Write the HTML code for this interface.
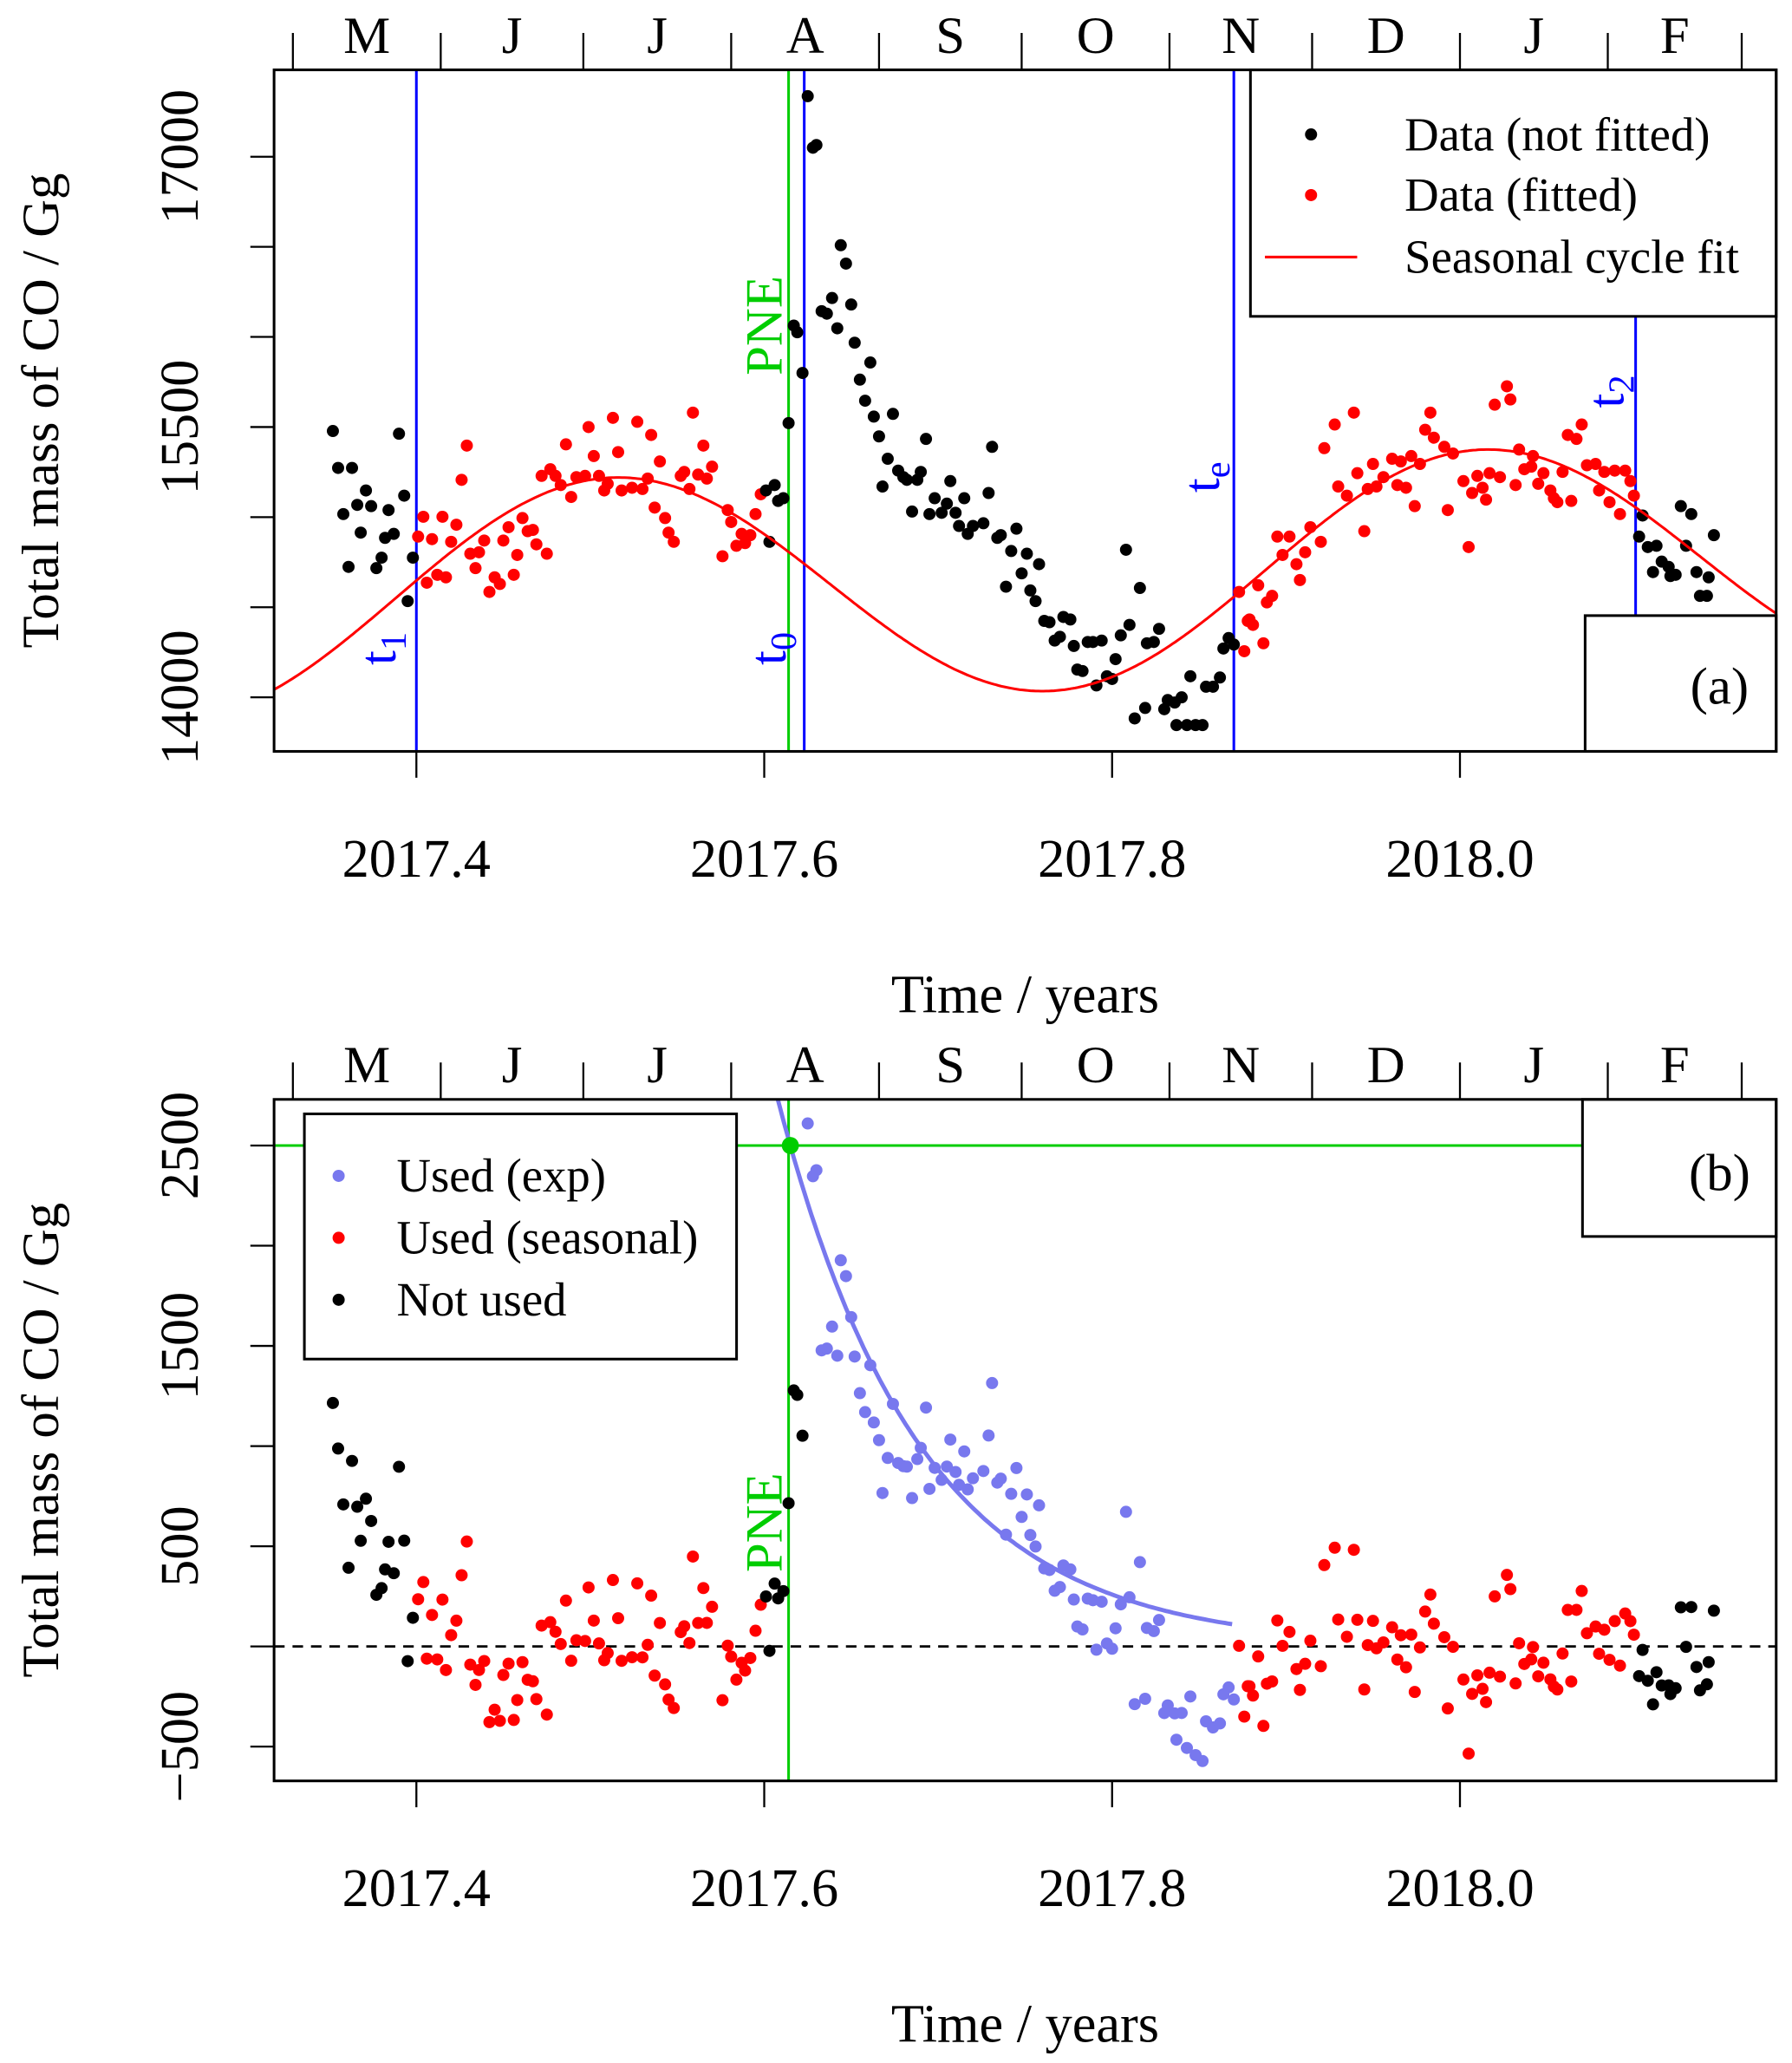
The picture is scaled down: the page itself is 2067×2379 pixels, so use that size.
<!DOCTYPE html>
<html><head><meta charset="utf-8"><style>
html,body{margin:0;padding:0;background:#fff;}
svg{display:block;font-family:"Liberation Serif",serif;}
</style></head><body>
<svg id="chart" width="2067" height="2379" viewBox="0 0 1360 1565" preserveAspectRatio="none" xmlns="http://www.w3.org/2000/svg">
<defs>
<clipPath id="clipA"><rect x="208" y="53" width="1140" height="517"/></clipPath>
<clipPath id="clipB"><rect x="208" y="834" width="1140" height="517"/></clipPath>
</defs>
<g id="gA"></g>
<g id="gB"></g>
</svg>
<script>
// ---- data ----
const tA = [2017.352,2017.355,2017.363,2017.371,2017.366,2017.374,2017.358,2017.384,2017.393,2017.390,2017.368,2017.382,2017.387,2017.380,2017.377,2017.361,2017.398,2017.395,
2017.404,2017.401,2017.415,2017.423,2017.409,2017.420,2017.429,2017.426,2017.406,2017.412,2017.417,2017.431,2017.436,2017.439,2017.434,2017.442,2017.445,2017.448,2017.450,2017.453,2017.461,2017.464,2017.467,2017.469,2017.475,2017.458,2017.456,2017.472,2017.477,2017.480,2017.483,2017.489,2017.486,2017.492,2017.497,2017.499,2017.502,2017.505,2017.510,2017.508,2017.513,2017.516,2017.518,2017.524,2017.530,2017.533,2017.527,2017.535,2017.540,2017.537,2017.543,2017.545,2017.548,2017.552,2017.554,2017.557,2017.559,2017.565,2017.562,2017.567,2017.570,2017.579,2017.581,2017.587,2017.592,2017.589,2017.584,2017.576,2017.595,2017.598,
2017.601,2017.606,2017.608,2017.611,2017.614,2017.603,2017.617,2017.619,2017.622,
2017.625,2017.628,2017.630,2017.644,2017.647,2017.639,2017.633,2017.636,2017.642,2017.650,2017.652,2017.661,2017.655,2017.658,2017.663,2017.674,2017.666,2017.693,2017.671,2017.677,2017.680,2017.682,2017.688,2017.690,2017.668,2017.731,2017.707,2017.729,2017.698,2017.705,2017.715,2017.685,2017.695,2017.702,2017.710,2017.712,2017.720,2017.726,2017.717,2017.734,2017.736,2017.745,2017.742,2017.751,2017.758,2017.748,2017.739,2017.753,2017.756,2017.808,2017.816,2017.761,2017.764,2017.772,2017.776,2017.767,2017.770,2017.778,2017.786,2017.789,2017.794,2017.805,2017.810,2017.820,2017.824,2017.827,2017.780,2017.783,2017.791,2017.797,2017.800,2017.802,2017.813,2017.819,2017.830,2017.832,2017.836,2017.840,2017.845,2017.837,2017.843,2017.848,2017.852,2017.854,2017.858,2017.862,2017.867,2017.864,
2017.873,2017.870,2017.876,2017.878,2017.887,2017.879,2017.881,2017.884,2017.889,2017.892,2017.908,2017.906,2017.898,2017.911,2017.895,2017.902,2017.914,2017.920,2017.945,2017.930,2017.935,2017.941,2017.947,2017.952,2017.956,2017.964,2017.969,2017.950,2017.961,2017.966,2017.972,2017.977,2017.974,2017.922,2017.928,2017.939,2017.980,2017.985,2017.991,2017.996,2017.983,2017.993,2018.002,2018.010,2018.007,2018.013,2018.015,2018.005,2018.017,2018.023,2018.032,2018.020,2018.029,2018.027,2018.034,2018.042,2018.037,2018.041,2018.045,2018.048,2018.052,2018.056,2018.054,2018.059,2018.064,2018.062,2018.067,2018.070,2018.073,2018.078,2018.083,2018.089,2018.095,2018.098,2018.080,2018.086,2018.092,
2018.100,2018.105,2018.103,2018.108,2018.113,2018.116,2018.120,2018.111,2018.124,2018.121,2018.127,2018.133,2018.130,2018.146,2018.136,2018.143,2018.138,2018.142];
const vA = [15478,15273,15273,15148,15068,15061,15017,15039,15119,15463,14914,14885,14907,14775,14717,14724,14775,14534,
15002,14892,15002,14958,14878,14863,15397,15207,14636,14680,14666,14797,14805,14870,14717,14585,14666,14629,14870,14944,14995,14922,14929,14849,14797,14790,14680,15229,15266,15229,15178,15112,15404,15222,15229,15500,15339,15229,15185,15148,15551,15361,15148,15163,15156,15214,15529,15456,15309,15053,14995,14914,14863,15229,15251,15156,15580,15397,15236,15214,15280,15039,14973,14907,14900,14856,14841,14783,15017,15127,
15148,15178,15090,15105,15522,14863,16063,16026,15800,
17336,17050,17065,16509,16407,16216,16143,16129,16048,16180,15968,15858,15763,15646,15558,15573,15448,15434,15324,15258,15222,15207,15207,15251,15170,15390,15200,15134,15105,15075,15105,15031,15017,15024,15024,14951,14951,14966,14907,14885,14900,14936,14812,14797,14739,14688,14614,14593,14534,14819,14607,14424,14417,14446,14432,14315,14336,14285,14307,14307,14315,14344,14402,14300,14307,14380,14154,14146,14066,14117,14102,14212,13883,13941,13934,13985,13971,14000,14117,13846,13846,13846,13846,14059,14059,14110,14329,14271,
14585,14293,14256,14424,14300,14432,14402,14622,14527,14563,14651,14739,14790,14805,14892,14892,14944,14863,14922,15170,15119,15244,15156,15170,15222,15178,15163,15295,15324,15309,15339,15295,15061,15383,15514,15580,15485,15441,15390,15353,15580,15039,15200,15229,15134,15163,15097,14834,15244,15222,15178,15624,15653,15726,15375,15339,15266,15280,15185,15244,15148,15083,15105,15251,15090,15456,15434,15514,15288,15295,15251,15258,15258,15200,15148,15083,15017,
15119,15009,14892,14834,14841,14753,14724,14695,14680,14673,15061,15017,14841,14900,14695,14666,14563,14563];
// seasonal fit parameters (semi-annual cycle + trend)
const fitMean = [14666];
const fitTrend = [310];
const fitAmp = [631];
const fitPhase = [2017.513];
const fitPeriod = [0.5];
// key times
const markerNames = ['t1','PNE','t0','te','t2'];
const markerTimes = [2017.400, 2017.614, 2017.623, 2017.870, 2018.101];
// exponential decay fit for panel b
const expA = [2500];
const expT0 = [2017.615];
const expTau = [0.0816];
// axes
const xTicks = [2017.4, 2017.6, 2017.8, 2018.0];
const xTickLabels = ['2017.4','2017.6','2017.8','2018.0'];
const yTicksA = [14000,14500,15000,15500,16000,16500,17000];
const yLabelsA = ['14000','15500','17000'];
const yTicksB = [-500,0,500,1000,1500,2000,2500];
const yLabelsB = ['\u2212500','500','1500','2500'];
const monthBounds = [2017.329,2017.414,2017.496,2017.581,2017.666,2017.748,2017.833,2017.915,2018.0,2018.085,2018.162];
const monthLabels = ['M','J','J','A','S','O','N','D','J','F'];

// ---- helpers ----
const NS='http://www.w3.org/2000/svg';
function mk(tag, attrs, parent){const e=document.createElementNS(NS,tag);for(const k in attrs)e.setAttribute(k,attrs[k]);parent.appendChild(e);return e;}
const X0=208,X1=1348;
function xs(t){return 316+(t-2017.4)*1320;}
function ysA(v){return 529-(v-14000)*0.1367;}
function ysB(v){return 1249-v*0.152;}
function fit(t){return fitMean[0]+fitTrend[0]*(t-2017.763)+fitAmp[0]*Math.cos(2*Math.PI*(t-fitPhase[0])/fitPeriod[0]);}
function expFit(t){return expA[0]*Math.exp(-(t-expT0[0])/expTau[0]);}
const BLUE='#0000ff',GREEN='#00cd00',RED='#ff0000',PURP='#7878ee';

function axes(g, top, bottom, yTicks, yLabels, ys, panel){
  // top month axis
  const ma=mk('g',{},g);
  
  
  monthBounds.forEach(m=>mk('line',{x1:xs(m),x2:xs(m),y1:top-28,y2:top,stroke:'#000','stroke-width':1.5},ma));
  mk('line',{x1:xs(monthBounds[0]),x2:xs(monthBounds[monthBounds.length-1]),y1:top,y2:top,stroke:'#000','stroke-width':1.5},ma);
  monthLabels.forEach((l,i)=>{const tx=mk('text',{x:(xs(monthBounds[i])+xs(monthBounds[i+1]))/2,y:top-13,'font-size':40,'text-anchor':'middle'},ma);tx.textContent=l;
    
    });
  // bottom axis
  const xa=mk('g',{},g);
  
  
  mk('line',{x1:xs(xTicks[0]),x2:xs(xTicks[xTicks.length-1]),y1:bottom,y2:bottom,stroke:'#000','stroke-width':1.5},xa);
  xTicks.forEach((t,i)=>{mk('line',{x1:xs(t),x2:xs(t),y1:bottom,y2:bottom+20,stroke:'#000','stroke-width':1.5},xa);
    const tx=mk('text',{x:xs(t),y:bottom+95,'font-size':41,'text-anchor':'middle'},xa);tx.textContent=xTickLabels[i];
    
    });
  const xt=mk('text',{x:778,y:bottom+198,'font-size':41,'text-anchor':'middle'},g);xt.textContent='Time / years';
  
  
  // y axis
  const ya=mk('g',{},g);
  
  
  mk('line',{x1:X0,x2:X0,y1:ys(yTicks[0]),y2:ys(yTicks[yTicks.length-1]),stroke:'#000','stroke-width':1.5},ya);
  yTicks.forEach(v=>mk('line',{x1:X0-18,x2:X0,y1:ys(v),y2:ys(v),stroke:'#000','stroke-width':1.5},ya));
  yLabels.forEach(l=>{const v=parseFloat(l.replace('\u2212','-'));const y=ys(v);
    const tx=mk('text',{transform:`translate(150,${y}) rotate(-90)`,'font-size':41,'text-anchor':'middle'},ya);tx.textContent=l;
    
    });
  const yt=mk('text',{transform:`translate(44,${(top+bottom)/2}) rotate(-90)`,'font-size':40,'text-anchor':'middle'},g);yt.textContent='Total mass of CO  / Gg';
  
  
  // box
  const bx=mk('rect',{x:X0,y:top,width:X1-X0,height:bottom-top,fill:'none',stroke:'#000','stroke-width':2},g);
  
  
}
function vlabel(g,x,y,main,sub,color,name){
  const tx=mk('text',{transform:`translate(${x},${y}) rotate(-90)`,'font-size':40,'text-anchor':'middle',fill:color},g);
  tx.textContent=main;
  if(sub){const s=mk('tspan',{'font-size':28,dy:8},tx);s.textContent=sub;}
  
  
}

// ---- panel A ----
const gA=document.getElementById('gA');
const cA=mk('g',{'clip-path':'url(#clipA)'},gA);
markerTimes.forEach((t,i)=>{const isG=markerNames[i]==='PNE';
  const ln=mk('line',{x1:xs(t),x2:xs(t),y1:53,y2:570,stroke:isG?GREEN:BLUE,'stroke-width':2},cA);
  
  });
tA.forEach((t,i)=>{const fitted = (t>=markerTimes[0]&&t<markerTimes[1]-0.015)||(t>markerTimes[3]&&t<markerTimes[4]-0.001);
  const c=mk('circle',{cx:xs(t),cy:ysA(vA[i]),r:4.6,fill:fitted?RED:'#000'},cA);
  
  });
let d='';for(let px=X0;px<=X1;px+=2){const t=2017.4+(px-316)/1320;d+=(px===X0?'M':'L')+px+','+ysA(fit(t)).toFixed(1);}
const fp=mk('path',{d:d,fill:'none',stroke:RED,'stroke-width':2},cA);


vlabel(gA,300,492,'t','1',BLUE,'t1-label');
vlabel(gA,596,492,'t','0',BLUE,'t0-label');
vlabel(gA,925,362,'t','e',BLUE,'te-label');
vlabel(gA,1232,297,'t','2',BLUE,'t2-label');
vlabel(gA,593,247,'PNE','',GREEN,'pne-label');
// legend A
const lgA=mk('g',{},gA);


mk('rect',{x:949,y:53,width:399,height:187,fill:'#fff',stroke:'#000','stroke-width':2},lgA);
[['Data (not fitted)','#000',102],['Data (fitted)',RED,148],['Seasonal cycle fit',RED,195]].forEach((e,i)=>{
  if(i<2){mk('circle',{cx:995,cy:e[2],r:4.6,fill:e[1]},lgA);}else{mk('line',{x1:960,x2:1030,y1:e[2],y2:e[2],stroke:RED,'stroke-width':2},lgA);}
  const tx=mk('text',{x:1066,y:e[2]+12,'font-size':36},lgA);tx.textContent=e[0];
  
  });
mk('rect',{x:1203,y:467,width:145,height:103,fill:'#fff',stroke:'#000','stroke-width':2},gA);
const la=mk('text',{x:1305,y:534,'font-size':40,'text-anchor':'middle'},gA);la.textContent='(a)';


axes(gA,53,570,yTicksA,yLabelsA,ysA,'panel-a');

// ---- panel B ----
const gB=document.getElementById('gB');
const cB=mk('g',{'clip-path':'url(#clipB)'},gB);
mk('line',{x1:X0,x2:X1,y1:ysB(0),y2:ysB(0),stroke:'#000','stroke-width':1.8,'stroke-dasharray':'8,6'},cB);
const gh=mk('line',{x1:X0,x2:X1,y1:ysB(expA[0]),y2:ysB(expA[0]),stroke:GREEN,'stroke-width':2},cB);


const gv=mk('line',{x1:xs(markerTimes[1]),x2:xs(markerTimes[1]),y1:834,y2:1351,stroke:GREEN,'stroke-width':2},cB);


tA.forEach((t,i)=>{const fitted=(t>=markerTimes[0]&&t<markerTimes[1]-0.015)||(t>markerTimes[3]&&t<markerTimes[4]-0.001);
  const isExp=!fitted&&t>=markerTimes[2]&&t<=markerTimes[3];
  const c=mk('circle',{cx:xs(t),cy:ysB(vA[i]-fit(t)),r:4.6,fill:isExp?PURP:(fitted?RED:'#000')},cB);
  
  });
let d2='';let first=true;for(let t=expT0[0]-0.02;t<=markerTimes[3];t+=0.002){d2+=(first?'M':'L')+xs(t).toFixed(1)+','+ysB(expFit(t)).toFixed(1);first=false;}
const ep=mk('path',{d:d2,fill:'none',stroke:PURP,'stroke-width':3.2},cB);


const dot=mk('circle',{cx:xs(expT0[0]),cy:ysB(expA[0]),r:6.5,fill:GREEN},cB);


vlabel(gB,593,1155,'PNE','',GREEN,'pne-label-b');
const lgB=mk('g',{},gB);


mk('rect',{x:231,y:845,width:328,height:186,fill:'#fff',stroke:'#000','stroke-width':2},lgB);
[['Used (exp)',PURP,892],['Used (seasonal)',RED,939],['Not used','#000',986]].forEach(e=>{
  mk('circle',{cx:257,cy:e[2],r:4.6,fill:e[1]},lgB);
  const tx=mk('text',{x:301,y:e[2]+12,'font-size':36},lgB);tx.textContent=e[0];
  
  });
mk('rect',{x:1201,y:834,width:147,height:104,fill:'#fff',stroke:'#000','stroke-width':2},gB);
const lb=mk('text',{x:1305,y:903,'font-size':40,'text-anchor':'middle'},gB);lb.textContent='(b)';


axes(gB,834,1351,yTicksB,yLabelsB,ysB,'panel-b');
</script>
</body></html>
